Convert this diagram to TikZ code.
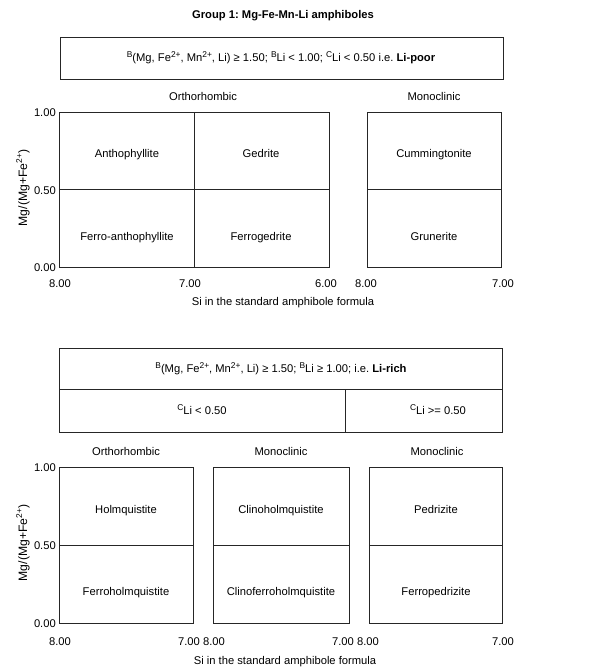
\documentclass[tikz,border=0pt]{standalone}
\usepackage{fontspec}
\setmainfont{Liberation Sans}
\frenchspacing
\newcommand\supx[1]{\raisebox{0.42em}{\fontsize{8.4}{9}\selectfont #1}}
\begin{document}
\begin{tikzpicture}[x=1pt,y=-1pt,
  font=\fontsize{11.2}{13}\selectfont,
  frame/.style={draw=black!85, line width=0.9pt},
  lbl/.style={inner sep=0pt, anchor=center, text height=8pt, text depth=2.2pt},
  ticklbl/.style={inner sep=0pt, anchor=center, text height=8pt, text depth=0pt},
  ylbl/.style={inner sep=0pt, anchor=east, text height=8pt, text depth=0pt},
  axlbl/.style={inner sep=0pt, anchor=center, rotate=90, font=\fontsize{12.2}{14}\selectfont}]
\useasboundingbox (0,0) rectangle (606,667);

% title
\node[lbl, font=\fontsize{11.2}{13}\selectfont\bfseries] (title) at (283,16) {Group 1: Mg-Fe-Mn-Li amphiboles};

% ---------- top criterion box
\draw[frame] (60,37) rectangle (503,79);
\node[lbl] (critA) at (281,59) {\supx{B}(Mg, Fe\supx{2+}, Mn\supx{2+}, Li) ≥ 1.50; \supx{B}Li < 1.00; \supx{C}Li < 0.50 i.e. \textbf{Li-poor}};

\node[lbl] (orthoA) at (203,98) {Orthorhombic};
\node[lbl] (monoA) at (434,98) {Monoclinic};

% top panels
\draw[frame] (59,112) rectangle (329,267);
\draw[frame] (194,112) -- (194,267);
\draw[frame] (59,189) -- (329,189);
\draw[frame] (367,112) rectangle (501,267);
\draw[frame] (367,189) -- (501,189);

\node[lbl] (anth) at (127,155) {Anthophyllite};
\node[lbl] (ged) at (261,155) {Gedrite};
\node[lbl] (fanth) at (127,238) {Ferro-anthophyllite};
\node[lbl] (fged) at (261,238) {Ferrogedrite};
\node[lbl] (cumm) at (434,155) {Cummingtonite};
\node[lbl] (grun) at (434,238) {Grunerite};

\node[ylbl] (ya1) at (56,112) {1.00};
\node[ylbl] (ya2) at (56,190) {0.50};
\node[ylbl] (ya3) at (56,267) {0.00};
\node[ticklbl] (xa1) at (60,283) {8.00};
\node[ticklbl] (xa2) at (190,283) {7.00};
\node[ticklbl] (xa3) at (326,283) {6.00};
\node[ticklbl] (xa4) at (366,283) {8.00};
\node[ticklbl] (xa5) at (503,283) {7.00};
\node[axlbl] (yaxA) at (23,188) {Mg/(Mg+Fe\supx{2+})};
\node[lbl] (xaxA) at (283,303) {Si in the standard amphibole formula};

% ---------- bottom criterion box
\draw[frame] (59,348) rectangle (502,432);
\draw[frame] (59,389) -- (502,389);
\draw[frame] (345,389) -- (345,432);
\node[lbl] (critB) at (281,370) {\supx{B}(Mg, Fe\supx{2+}, Mn\supx{2+}, Li) ≥ 1.50; \supx{B}Li ≥ 1.00; i.e. \textbf{Li-rich}};
\node[lbl] (cpoor) at (202,412) {\supx{C}Li < 0.50};
\node[lbl] (crich) at (438,412) {\supx{C}Li >= 0.50};

\node[lbl] (orthoB) at (126,453) {Orthorhombic};
\node[lbl] (monoB) at (281,453) {Monoclinic};
\node[lbl] (monoC) at (437,453) {Monoclinic};

% bottom panels
\draw[frame] (59,467) rectangle (193,623);
\draw[frame] (59,545) -- (193,545);
\draw[frame] (213,467) rectangle (349,623);
\draw[frame] (213,545) -- (349,545);
\draw[frame] (369,467) rectangle (502,623);
\draw[frame] (369,545) -- (502,545);

\node[lbl] (holm) at (126,511) {Holmquistite};
\node[lbl] (fholm) at (126,593) {Ferroholmquistite};
\node[lbl] (cholm) at (281,511) {Clinoholmquistite};
\node[lbl] (cfholm) at (281,593) {Clinoferroholmquistite};
\node[lbl] (pedr) at (436,511) {Pedrizite};
\node[lbl] (fpedr) at (436,593) {Ferropedrizite};

\node[ylbl] (yb1) at (56,467) {1.00};
\node[ylbl] (yb2) at (56,545) {0.50};
\node[ylbl] (yb3) at (56,623) {0.00};
\node[ticklbl] (xb1) at (60,641) {8.00};
\node[ticklbl] (xb2) at (189,641) {7.00};
\node[ticklbl] (xb3) at (214,641) {8.00};
\node[ticklbl] (xb4) at (343,641) {7.00};
\node[ticklbl] (xb5) at (368,641) {8.00};
\node[ticklbl] (xb6) at (503,641) {7.00};
\node[axlbl] (yaxB) at (23,543) {Mg/(Mg+Fe\supx{2+})};
\node[lbl] (xaxB) at (285,662) {Si in the standard amphibole formula};
\end{tikzpicture}
\end{document}
